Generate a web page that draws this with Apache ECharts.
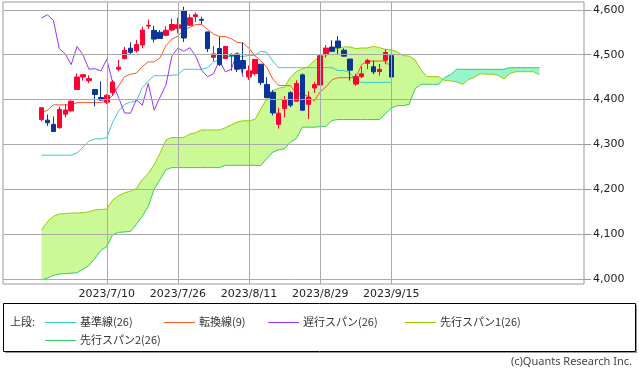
<!DOCTYPE html>
<html><head><meta charset="utf-8">
<script src="https://cdn.jsdelivr.net/npm/echarts@6/dist/echarts.min.js"></script>
<style>html,body{margin:0;padding:0;background:#fff}#c{width:639px;height:368px}</style>
</head><body><div id="c"></div>
<script>
// ---- data ----
const dates = ['2023/6/22','2023/6/23','2023/6/26','2023/6/27','2023/6/28','2023/6/29','2023/6/30','2023/7/3','2023/7/5','2023/7/6','2023/7/7','2023/7/10','2023/7/11','2023/7/12','2023/7/13','2023/7/14','2023/7/17','2023/7/18','2023/7/19','2023/7/20','2023/7/21','2023/7/24','2023/7/25','2023/7/26','2023/7/27','2023/7/28','2023/7/31','2023/8/1','2023/8/2','2023/8/3','2023/8/4','2023/8/7','2023/8/8','2023/8/9','2023/8/10','2023/8/11','2023/8/14','2023/8/15','2023/8/16','2023/8/17','2023/8/18','2023/8/21','2023/8/22','2023/8/23','2023/8/24','2023/8/25','2023/8/28','2023/8/29','2023/8/30','2023/8/31','2023/9/1','2023/9/5','2023/9/6','2023/9/7','2023/9/8','2023/9/11','2023/9/12','2023/9/13','2023/9/14','2023/9/15'];
const tickDates = ['2023/7/10','2023/7/26','2023/8/11','2023/8/29','2023/9/15'];
const yTicks = [4000,4100,4200,4300,4400,4500,4600];

const opens = [4355.40,4354.17,4344.84,4337.36,4367.48,4374.94,4422.44,4450.48,4442.04,4422.62,
4404.54,4394.23,4415.55,4467.69,4491.50,4514.61,4508.86,4521.78,4563.87,4554.38,
4550.16,4543.39,4555.19,4558.96,4598.26,4565.75,4584.82,4578.83,4550.93,4494.27,
4513.96,4491.58,4498.03,4501.57,4487.16,4450.69,4458.13,4478.87,4433.79,4416.32,
4344.88,4380.28,4415.33,4396.44,4455.16,4389.38,4426.03,4432.75,4500.34,4517.01,
4530.60,4510.06,4490.35,4434.55,4451.30,4480.98,4473.27,4462.65,4487.78,4497.98];
const highs = [4382.25,4366.55,4362.06,4384.42,4390.35,4398.39,4458.48,4456.46,4454.06,4422.62,
4440.39,4412.60,4443.64,4488.34,4517.38,4527.76,4532.85,4562.30,4578.43,4564.74,
4555.00,4563.41,4580.62,4582.47,4607.07,4590.16,4594.22,4584.62,4550.93,4519.49,
4540.34,4519.84,4503.31,4502.44,4527.37,4476.23,4490.33,4478.87,4449.95,4421.17,
4381.82,4407.55,4418.59,4443.18,4458.30,4418.46,4439.56,4500.14,4521.65,4532.26,
4541.25,4514.29,4490.35,4457.81,4473.53,4490.77,4487.11,4479.39,4511.99,4497.98];
const lows = [4351.82,4341.34,4328.08,4335.00,4360.22,4371.97,4422.44,4442.29,4436.61,4385.05,
4397.40,4389.92,4408.46,4463.23,4489.36,4499.56,4504.90,4514.59,4557.48,4527.56,
4535.79,4541.29,4552.42,4547.58,4528.56,4564.01,4573.14,4567.53,4505.75,4485.54,
4474.55,4491.15,4464.39,4461.33,4457.92,4443.98,4453.44,4432.19,4403.55,4364.83,
4335.31,4360.30,4382.77,4396.44,4375.55,4356.29,4414.98,4431.68,4493.59,4507.39,
4501.35,4496.01,4442.38,4430.46,4448.38,4467.89,4456.83,4453.52,4478.69,4447.21];
const closes = [4381.89,4348.33,4328.82,4378.41,4376.86,4396.44,4450.38,4455.59,4446.82,4411.59,
4398.95,4409.53,4439.26,4472.16,4510.04,4505.42,4522.79,4554.98,4565.72,4534.87,
4536.34,4554.64,4567.46,4566.75,4537.41,4582.23,4588.96,4576.73,4513.39,4501.89,
4478.03,4518.44,4499.38,4467.71,4468.83,4464.05,4489.72,4437.86,4404.33,4370.36,
4369.71,4399.77,4387.55,4436.01,4376.31,4405.71,4433.31,4497.63,4514.87,4507.66,
4515.77,4496.83,4465.48,4451.14,4457.49,4487.46,4461.90,4467.44,4505.10,4450.32];

const kijun = [4276.2,4276.2,4276.2,4276.2,4276.2,4276.2,4281.2,4294.1,4307.3,4312.3,
4312.3,4315.1,4349.7,4374.7,4389.2,4394.4,4397.0,4427.0,4441.4,4453.3,
4453.3,4453.3,4454.4,4455.3,4467.6,4467.6,4467.6,4467.6,4471.0,4483.6,
4489.5,4496.1,4496.1,4496.1,4496.1,4498.5,4498.5,4507.8,4505.3,4486.0,
4471.2,4471.2,4471.2,4471.2,4471.2,4471.2,4471.2,4471.2,4471.2,4471.2,
4464.8,4464.8,4460.0,4443.1,4438.3,4438.3,4438.3,4438.3,4438.3,4438.3];
const tenkan = [4370.1,4376.4,4388.3,4388.3,4388.3,4388.3,4393.3,4393.3,4393.3,4393.3,
4393.3,4396.7,4409.4,4430.2,4451.2,4456.4,4459.0,4473.7,4484.2,4484.2,
4493.4,4520.8,4535.0,4541.0,4556.0,4560.8,4567.3,4567.3,4556.4,4546.3,
4540.8,4540.8,4535.7,4527.8,4526.1,4514.3,4497.5,4486.3,4471.9,4446.1,
4431.3,4431.3,4431.3,4412.8,4412.8,4407.1,4396.8,4417.7,4428.5,4444.3,
4448.8,4448.8,4448.8,4448.8,4478.1,4485.9,4485.9,4485.9,4485.9,4472.4];
const chikou = [4582.23,4588.96,4576.73,4513.39,4501.89,4478.03,4518.44,4499.38,4467.71,4468.83,
4464.05,4489.72,4437.86,4404.33,4370.36,4369.71,4399.77,4387.55,4436.01,4376.31,
4405.71,4433.31,4497.63,4514.87,4507.66,4515.77,4496.83,4465.48,4451.14,4457.49,
4487.46,4461.90,4467.44,4505.10,4450.32];
const senkouA = [4109,4128,4140,4145,4146,4147,4147,4148,4150,4154,
4155,4156,4176,4186,4192,4196,4202,4222,4235,4255,
4281,4310,4315.5,4315.5,4315.5,4323.2,4326.3,4332.3,4332.3,4332.3,
4332.3,4337.3,4343.7,4350.3,4352.8,4352.8,4355.9,4379.5,4402.5,4420.2,
4425.4,4428.0,4450.4,4462.8,4468.8,4473.4,4487.1,4494.7,4498.2,4511.8,
4514.2,4517.5,4517.5,4513.7,4515.0,4515.2,4518.5,4515.9,4512.0,4511.1,
4506.4,4498.0,4497.0,4488.6,4466.1,4451.3,4451.3,4451.3,4442.0,4442.0,
4439.2,4434.0,4444.5,4449.9,4457.8,4456.8,4456.8,4454.4,4446.0,4458.2,
4462.1,4462.1,4462.1,4462.1,4455.4];
const senkouB = [3998,4002,4008,4011,4012,4013,4014,4022,4030,4046,
4064,4072,4099,4104,4105,4106,4122,4140,4162,4200,
4222,4244,4248.4,4248.4,4248.4,4248.4,4248.4,4248.4,4248.4,4248.4,
4248.4,4253.4,4253.4,4253.4,4253.4,4253.4,4253.4,4253.4,4268.3,4282.8,
4288.0,4290.6,4305.3,4313.4,4338.5,4338.5,4338.5,4339.6,4340.5,4353.5,
4355.5,4355.5,4355.5,4355.5,4355.5,4355.5,4355.5,4355.5,4368.4,4381.6,
4386.6,4386.6,4389.4,4424.0,4434.1,4434.1,4434.1,4434.1,4449.4,4455.7,
4467.6,4467.6,4467.6,4467.6,4467.6,4467.6,4467.6,4467.6,4467.6,4471.0,
4471.2,4471.2,4471.2,4471.2,4471.2];

// ---- layout of category slots ----
const PAD_LEFT = 6, FUTURE = 25, PAD_RIGHT = 7;
const cats = [];
for (let i = 0; i < PAD_LEFT; i++) cats.push('_l' + i);
dates.forEach(d => cats.push(d));
for (let i = 0; i < FUTURE; i++) cats.push('_f' + i);
for (let i = 0; i < PAD_RIGHT; i++) cats.push('_r' + i);
const at = k => cats[PAD_LEFT + k];
const pairs = arr => arr.map((v, k) => [at(k), v]);

const C_KIJUN = '#33cccc', C_TENKAN = '#ff5522', C_CHIKOU = '#9933ff',
      C_SA = '#99cc00', C_SB = '#33cc66', C_UP = '#ff0033', C_DOWN = '#0a3597';
const LIME = 'rgba(182,246,108,0.72)', AQUA = 'rgba(110,242,182,0.72)';
const FONT = 'DejaVu Sans', JFONT = 'Noto Sans CJK JP';

const tickSet = new Set(tickDates);

function cloudItem(params, api) {
  const pts = senkouA.map((a, k) => {
    const b = senkouB[k];
    return { A: api.coord([PAD_LEFT + k, a]), B: api.coord([PAD_LEFT + k, b]), d: a - b };
  });
  const runs = [];
  let cur = { pos: pts[0].d >= 0, top: [pts[0].A], bot: [pts[0].B] };
  for (let k = 1; k < pts.length; k++) {
    const p = pts[k], q = pts[k - 1];
    const pos = p.d >= 0;
    if (pos === cur.pos) { cur.top.push(p.A); cur.bot.push(p.B); }
    else {
      const t = q.d / (q.d - p.d);
      const X = [q.A[0] + t * (p.A[0] - q.A[0]), q.A[1] + t * (p.A[1] - q.A[1])];
      cur.top.push(X); cur.bot.push(X); runs.push(cur);
      cur = { pos, top: [X, p.A], bot: [X, p.B] };
    }
  }
  runs.push(cur);
  return {
    type: 'group',
    children: runs.map(r => ({
      type: 'polygon',
      shape: { points: r.top.concat(r.bot.slice().reverse()) },
      style: { fill: r.pos ? LIME : AQUA }
    }))
  };
}

const chart = echarts.init(document.getElementById('c'), null, { renderer: 'canvas' });

const legendY1 = 322, legendY2 = 340;
const legendItems = [
  { x: 45, y: legendY1, c: C_KIJUN, t: '基準線(26)' },
  { x: 164, y: legendY1, c: C_TENKAN, t: '転換線(9)' },
  { x: 268, y: legendY1, c: C_CHIKOU, t: '遅行スパン(26)' },
  { x: 405, y: legendY1, c: C_SA, t: '先行スパン1(26)' },
  { x: 45, y: legendY2, c: C_SB, t: '先行スパン2(26)' }
];
const graphics = [
  { type: 'line', shape: { x1: 5, y1: 352.5, x2: 637, y2: 352.5 }, style: { stroke: '#999', lineWidth: 1 }, z: 9 },
  { type: 'line', shape: { x1: 636.5, y1: 305, x2: 636.5, y2: 353 }, style: { stroke: '#999', lineWidth: 1 }, z: 9 },
  { type: 'rect', shape: { x: 3.5, y: 303.5, width: 632, height: 48 },
    style: { fill: '#fff', stroke: '#000', lineWidth: 1 }, z: 10 },
  { type: 'text', x: 10, y: legendY1, style: { text: '上段:', fill: '#333', font: '11px "' + JFONT + '"', verticalAlign: 'middle' }, z: 11 },
  { type: 'text', x: 632, y: 362, style: { text: '(c)Quants Research Inc.', fill: '#444', font: '11px "Noto Sans"', align: 'right', verticalAlign: 'middle' }, z: 11 }
];
legendItems.forEach(it => {
  graphics.push({ type: 'line', shape: { x1: it.x, y1: it.y + 0.5, x2: it.x + 31, y2: it.y + 0.5 }, style: { stroke: it.c, lineWidth: 1 }, z: 11 });
  graphics.push({ type: 'text', x: it.x + 35, y: it.y, style: { text: it.t, fill: '#333', font: '11px "' + JFONT + '"', verticalAlign: 'middle' }, z: 11 });
});

const lineSeries = (name, data, color, z) => ({
  name, type: 'line', data: pairs(data), symbol: 'none', showSymbol: false,
  lineStyle: { color, width: 1 }, itemStyle: { color }, z, silent: true
});

chart.setOption({
  animation: false,
  backgroundColor: '#fff',
  grid: { left: 3, top: 2, width: 581, height: 282, show: true, borderColor: '#999', borderWidth: 1,
          backgroundColor: '#fff', containLabel: false, outerBoundsMode: 'none' },
  xAxis: {
    type: 'category', data: cats, boundaryGap: true,
    axisLine: { show: false }, axisTick: { show: false }, splitLine: { show: false },
    axisLabel: { interval: (i, v) => tickSet.has(v), margin: 5, color: '#222', fontSize: 11, fontFamily: FONT }
  },
  yAxis: {
    type: 'value', position: 'right', min: 3988.9, max: 4617.6, minInterval: 100, maxInterval: 100,
    axisLine: { show: false },
    axisTick: { show: true, inside: false, length: 7, lineStyle: { color: '#999' }, customValues: yTicks },
    splitLine: { show: false },
    axisLabel: { margin: 9, color: '#222', fontSize: 11, fontFamily: FONT, customValues: yTicks,
                 formatter: v => Math.round(v).toLocaleString('en-US') }
  },
  graphic: graphics,
  series: [
    { name: 'grid-lines', type: 'line', data: [], z: 0, silent: true,
      markLine: { silent: true, symbol: ['none', 'none'], label: { show: false },
                  lineStyle: { color: '#aaa', width: 1, type: 'solid' },
                  data: tickDates.map(d => ({ xAxis: d })).concat(yTicks.map(v => ({ yAxis: v }))) } },
    { name: 'cloud', type: 'custom', renderItem: cloudItem, data: [[at(0), 4300]],
      encode: { x: 0, y: 1 }, clip: true, z: 1, silent: true },
    lineSeries('先行スパン1(26)', senkouA, C_SA, 2),
    lineSeries('先行スパン2(26)', senkouB, C_SB, 2),
    lineSeries('基準線(26)', kijun, C_KIJUN, 3),
    lineSeries('遅行スパン(26)', chikou, C_CHIKOU, 3),
    lineSeries('転換線(9)', tenkan, C_TENKAN, 3),
    { name: 'price', type: 'candlestick', z: 4, silent: true, barWidth: 5,
      data: dates.map((d, i) => [d, opens[i], closes[i], lows[i], highs[i]]),
      encode: { x: 0, y: [1, 2, 3, 4] },
      itemStyle: { color: C_UP, color0: C_DOWN, borderColor: C_UP, borderColor0: C_DOWN, borderWidth: 1 } }
  ]
});
</script></body></html>
